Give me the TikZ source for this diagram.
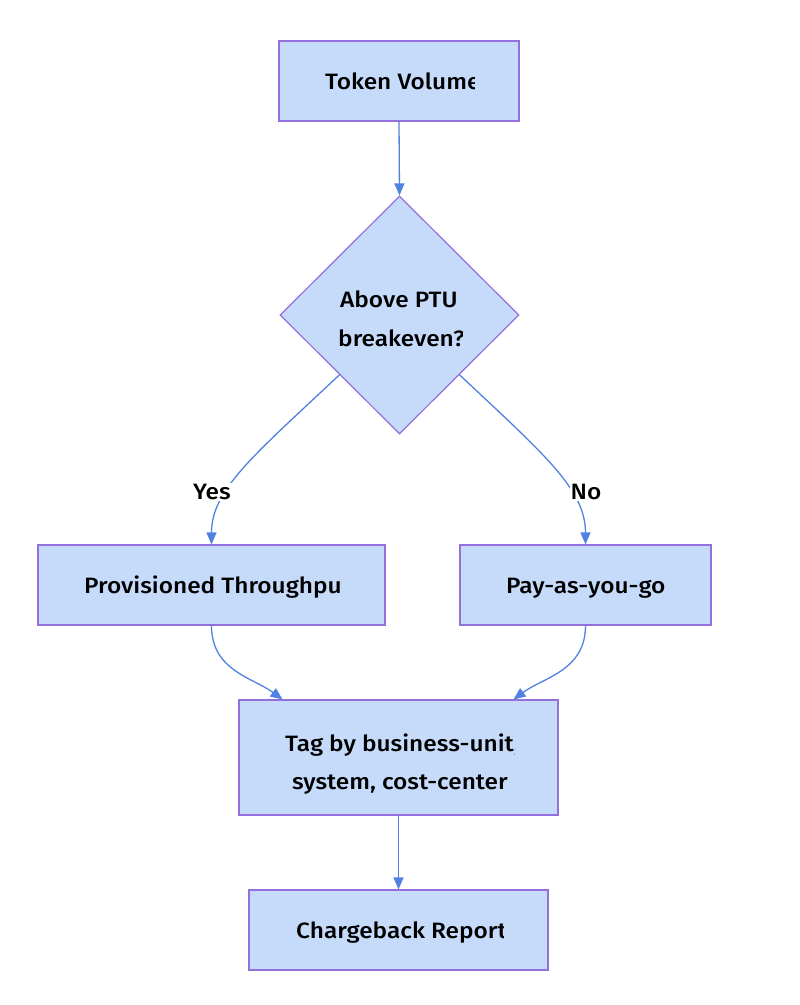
\documentclass[tikz,border=0pt]{standalone}
\usepackage{fontspec}
\setmainfont{Fira Sans}[UprightFont={* Medium},FakeStretch=1.1]
\usetikzlibrary{shapes.geometric,arrows.meta}
\definecolor{fillc}{RGB}{198,219,250}
\definecolor{bordc}{RGB}{147,112,219}
\definecolor{edgec}{RGB}{80,130,228}
\tikzset{
  box/.style={rectangle, draw=bordc, fill=fillc, line width=1.2pt, inner sep=0pt},
  dec/.style={diamond, aspect=1, draw=bordc, fill=fillc, line width=1.2pt, inner sep=0pt, minimum width=239pt, minimum height=238pt},
  conn/.style={draw=edgec, line width=1.3pt, -{Triangle[length=12pt,width=10pt]}},
  txt/.style={font=\fontsize{22.2}{26}\selectfont, anchor=base west, inner sep=0pt, text=black},
  lbl/.style={font=\fontsize{22.2}{26}\selectfont, fill=white, inner sep=1pt, text=black}
}
\begin{document}
\begin{tikzpicture}[x=1pt,y=-1pt]
\fill[white] (0,0) rectangle (800,1005);
\useasboundingbox (0,0) rectangle (800,1005);

% shapes
\node[box, minimum width=240pt, minimum height=80pt] (tok) at (399,81) {};
\node[dec] (dec) at (399.5,315) {};
\node[box, minimum width=347pt, minimum height=80pt] (prov) at (211.5,585) {};
\node[box, minimum width=251pt, minimum height=80pt] (pay) at (585.5,585) {};
\node[box, minimum width=319pt, minimum height=115pt] (tag) at (398.5,757.5) {};
\node[box, minimum width=299pt, minimum height=80pt] (chg) at (398.5,930) {};

% clipped texts
\begin{scope}
\clip (300,50) rectangle (474,112);
\node[txt] (tokt) at (325,89) {Token Volume};
\end{scope}
\begin{scope}
\clip (320,280) rectangle (462,360);
\node[txt] (dect1) at (340,307) {Above PTU};
\node[txt] (dect2) at (338,346) {breakeven?};
\end{scope}
\begin{scope}
\clip (60,555) rectangle (341,615);
\node[txt] (provt) at (84,593) {Provisioned Throughput};
\end{scope}
\begin{scope}
\clip (480,555) rectangle (667,615);
\node[txt] (payt) at (506,593) {Pay-as-you-go};
\end{scope}
\begin{scope}
\clip (260,710) rectangle (514,805);
\node[txt] (tagt1) at (285,751) {Tag by business-unit,};
\node[txt] (tagt2) at (292,789) {system, cost-center};
\end{scope}
\begin{scope}
\clip (270,900) rectangle (503,960);
\node[txt] (chgt) at (296,938) {Chargeback Report};
\end{scope}

% connectors
\draw[conn] (tok.south) -- (dec.north);
\draw[conn] (dec.south west) .. controls +(-85,80) and +(0,-55) .. (prov.north);
\draw[conn] (dec.south east) .. controls +(85,80) and +(0,-55) .. (pay.north);
\draw[conn] (prov.south) .. controls +(0,45) and +(-30,-22) .. ([xshift=-116pt]tag.north);
\draw[conn] (pay.south) .. controls +(0,45) and +(30,-22) .. ([xshift=115pt]tag.north);
\draw[conn] (tag.south) -- (chg.north);

% edge labels
\node[lbl] (yes) at (212,492) {Yes};
\node[lbl] (no) at (586,492) {No};
\end{tikzpicture}
\end{document}
